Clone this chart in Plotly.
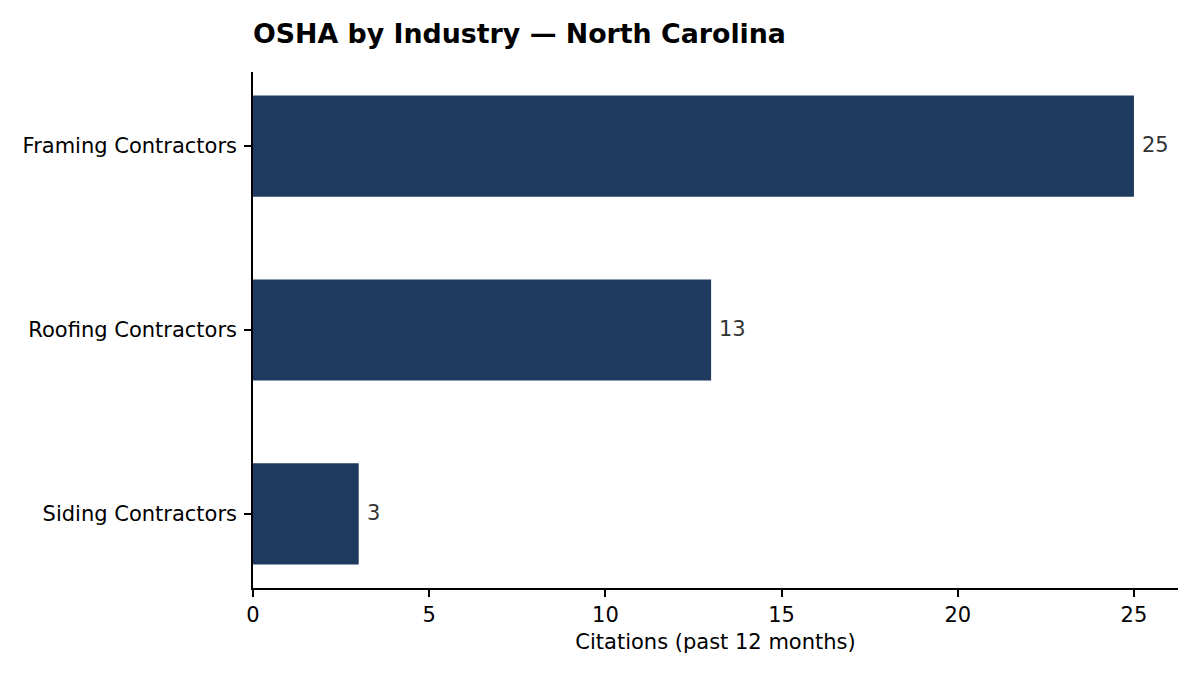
import plotly.graph_objects as go

industries = ["Framing Contractors", "Roofing Contractors", "Siding Contractors"]
citations = [25, 13, 3]

positions = list(range(len(industries)))
bar_color = "#1f3a5f"
font_family = "DejaVu Sans, sans-serif"

fig = go.Figure()
fig.add_trace(go.Bar(
    x=citations,
    y=positions,
    orientation="h",
    width=0.55,
    marker=dict(color=bar_color, line=dict(width=0)),
    hoverinfo="skip",
))

for p, v in zip(positions, citations):
    fig.add_annotation(
        x=v, y=p, xref="x", yref="y",
        text=str(v), showarrow=False,
        xanchor="left", yanchor="middle",
        xshift=6, yshift=1,
        font=dict(family=font_family, size=21, color="#333333"),
    )

xmax = max(citations) * 1.05
n = len(industries)
pad = (n - 1 + 0.55) * 0.05

fig.update_layout(
    width=1200, height=675,
    margin=dict(l=245, r=30, t=64, b=95),
    paper_bgcolor="white", plot_bgcolor="white",
    showlegend=False,
    font=dict(family=font_family, size=21, color="black"),
    title=dict(
        text="<b>OSHA by Industry — North Carolina</b>",
        x=245 / 1200, xref="container", xanchor="left",
        y=1 - 26 / 675, yref="container", yanchor="middle",
        font=dict(family=font_family, size=26.8, color="black"),
    ),
    xaxis=dict(
        range=[0, xmax],
        tickvals=[0, 5, 10, 15, 20, 25],
        showgrid=False, zeroline=False,
        showline=True, linecolor="black", linewidth=1.6,
        ticks="outside", ticklen=7, tickwidth=1.6, tickcolor="black",
        tickfont=dict(family=font_family, size=21, color="black"),
        title=dict(text="Citations (past 12 months)", standoff=8,
                   font=dict(family=font_family, size=21, color="black")),
    ),
    yaxis=dict(
        range=[n - 1 + 0.275 + pad, -0.275 - pad],
        tickvals=positions, ticktext=industries,
        showgrid=False, zeroline=False,
        showline=True, linecolor="black", linewidth=1.6,
        ticks="outside", ticklen=7, tickwidth=1.6, tickcolor="black",
        ticklabelstandoff=3,
        tickfont=dict(family=font_family, size=21, color="black"),
    ),
)

fig.write_html("out.html")
